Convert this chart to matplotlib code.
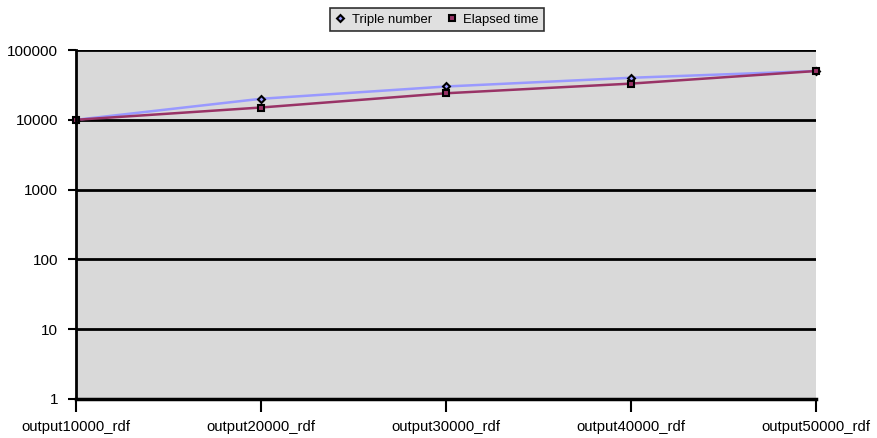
import matplotlib
matplotlib.use("Agg")
import matplotlib.pyplot as plt
from matplotlib.lines import Line2D

plt.rcParams['font.family'] = ['Liberation Sans', 'DejaVu Sans']

categories = ["output10000_rdf", "output20000_rdf", "output30000_rdf",
              "output40000_rdf", "output50000_rdf"]
triple_number = [10000, 20000, 30000, 40000, 50000]
elapsed_time = [10000, 15000, 24000, 33000, 50000]

W, H = 877, 438
fig = plt.figure(figsize=(W / 100, H / 100), dpi=100)
ax = fig.add_axes([76 / W, (H - 399) / H, (816 - 76) / W, (399 - 50) / H])

plot_bg = "#D9D9D9"
ax.set_facecolor(plot_bg)

x = list(range(len(categories)))
ax.plot(x, triple_number, color="#9999FF", lw=1.8, zorder=3,
        marker="D", markersize=3.5, markerfacecolor="#9999FF",
        markeredgecolor="black", markeredgewidth=1.5, clip_on=False)
ax.plot(x, elapsed_time, color="#993366", lw=1.8, zorder=4,
        marker="s", markersize=5, markerfacecolor="#993366",
        markeredgecolor="black", markeredgewidth=1.5, clip_on=False)

ax.set_yscale("log")
ax.set_ylim(1, 100000)
ax.set_xlim(0, len(categories) - 1)
ax.set_yticks([1, 10, 100, 1000, 10000, 100000])
ax.set_yticklabels(["1", "10", "100", "1000", "10000", "100000"])
ax.yaxis.set_minor_locator(matplotlib.ticker.NullLocator())
ax.set_xticks(x)
ax.set_xticklabels(categories)

ax.grid(axis="y", which="major", color="black", lw=2, zorder=1)
ax.set_axisbelow(True)
for s in ("top", "right"):
    ax.spines[s].set_visible(False)
ax.spines["left"].set_linewidth(2)
ax.spines["bottom"].set_linewidth(2.5)
ax.spines["left"].set_zorder(5)
ax.spines["bottom"].set_zorder(5)

ax.tick_params(axis="y", direction="out", length=6, width=1.5,
               labelsize=11, pad=7, colors="black")
ax.tick_params(axis="x", direction="out", length=9, width=1.5,
               labelsize=10.7, pad=6, colors="black")

handles = [
    Line2D([], [], ls="none", marker="D", markersize=3.5,
           markerfacecolor="#9999FF", markeredgecolor="black",
           markeredgewidth=1.5, label="Triple number"),
    Line2D([], [], ls="none", marker="s", markersize=4.5,
           markerfacecolor="#993366", markeredgecolor="black",
           markeredgewidth=1.5, label="Elapsed time"),
]
leg = fig.legend(handles=handles, loc="center",
                 bbox_to_anchor=(437 / W, 1 - 19.5 / H),
                 ncol=2, frameon=True, fontsize=9.4,
                 handlelength=0.8, handletextpad=0.5, columnspacing=1.1,
                 borderpad=0.4, fancybox=False, borderaxespad=0)
leg.get_frame().set_facecolor(plot_bg)
leg.get_frame().set_edgecolor("black")
leg.get_frame().set_linewidth(1.2)

fig.savefig("out.png", dpi=100)
